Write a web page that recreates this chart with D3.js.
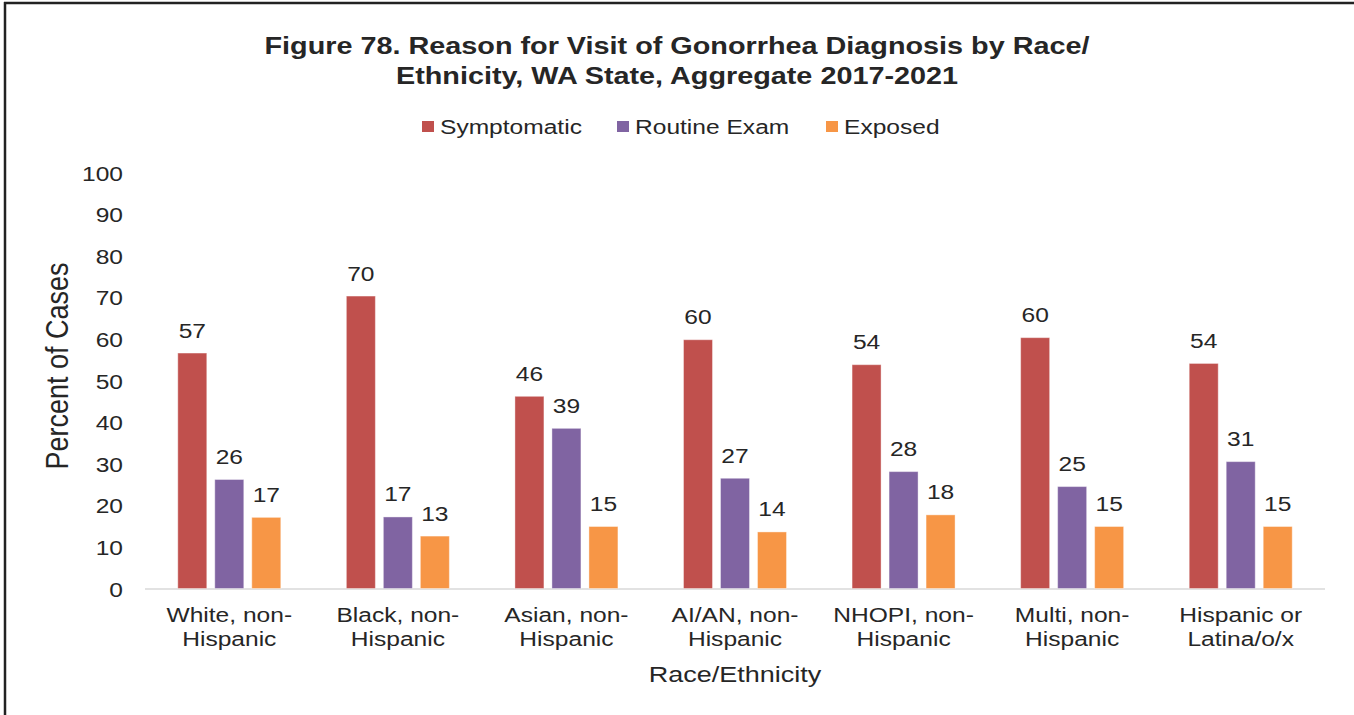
<!DOCTYPE html>
<html><head><meta charset="utf-8">
<script src="https://cdn.jsdelivr.net/npm/d3@7"></script>
<style>body{margin:0;background:#fff;} text{font-family:"Liberation Sans",Arial,sans-serif;}</style>
</head><body>
<svg id="c" width="1354" height="715"></svg>
<script>
const categories = [["White, non-","Hispanic"],["Black, non-","Hispanic"],["Asian, non-","Hispanic"],["AI/AN, non-","Hispanic"],["NHOPI, non-","Hispanic"],["Multi, non-","Hispanic"],["Hispanic or","Latina/o/x"]];
const seriesNames = ["Symptomatic","Routine Exam","Exposed"];
const symptomatic = [56.6, 70.3, 46.2, 59.8, 53.8, 60.3, 54.1];
const routineExam = [26.2, 17.2, 38.5, 26.5, 28.1, 24.5, 30.5];
const exposed = [17.1, 12.6, 14.9, 13.6, 17.7, 14.9, 14.9];
const yTicks = [0,10,20,30,40,50,60,70,80,90,100];
const colors = ["#C0504D","#8064A2","#F79646"];
const series = [symptomatic, routineExam, exposed];

const svg = d3.select("#c");
const txt = "#262626";
const SX = 1.17; // horizontal stretch of the reference text

function stext(x, y, str, size, anchor, sx){
  return svg.append("text").attr("transform",`translate(${x},${y}) scale(${sx||SX},1)`)
    .attr("text-anchor",anchor||"middle").attr("font-size",size).attr("fill",txt).text(str);
}

// border
svg.append("line").attr("x1",5).attr("x2",5).attr("y1",2).attr("y2",715).attr("stroke","#222").attr("stroke-width",2.5);
svg.append("line").attr("x1",4).attr("x2",1354).attr("y1",3).attr("y2",3).attr("stroke","#222").attr("stroke-width",2.5);

const x0 = d3.scaleBand().domain(d3.range(categories.length)).range([145,1325]);
const barW = 29, step = 37;
const y = d3.scaleLinear().domain([0,100]).range([588.5,172.5]);

// title
stext(677,54,"Figure 78. Reason for Visit of Gonorrhea Diagnosis by Race/",24,"middle",1.2).attr("font-weight","bold");
stext(677,84,"Ethnicity, WA State, Aggregate 2017-2021",24,"middle",1.2).attr("font-weight","bold");

// legend
const legSq = [422, 617, 826];
seriesNames.forEach((n,i)=>{
  svg.append("rect").attr("x",legSq[i]).attr("y",121).attr("width",12).attr("height",11).attr("fill",colors[i]);
  stext(legSq[i]+18,134,n,21,"start");
});

// y axis tick labels via d3 axis
const yAxis = d3.axisLeft(y).tickValues(yTicks).tickSize(0).tickPadding(0);
const ga = svg.append("g").attr("transform","translate(123,0)").call(yAxis);
ga.select(".domain").remove();
ga.selectAll(".tick text").attr("font-size",21).attr("fill",txt)
  .attr("font-family","Liberation Sans, Arial, sans-serif").attr("x",0).attr("dy","0.36em")
  .attr("transform",`scale(${SX},1)`);

// baseline
svg.append("line").attr("x1",145).attr("x2",1325).attr("y1",y(0)+0.5).attr("y2",y(0)+0.5).attr("stroke","#d9d9d9").attr("stroke-width",1.5);

// bars
categories.forEach((c,ci)=>{
  const cx = x0(ci) + x0.bandwidth()/2;
  series.forEach((s,si)=>{
    const bx = cx + (si-1)*step - barW/2;
    svg.append("rect").attr("x",bx).attr("y",y(s[ci])).attr("width",barW).attr("height",y(0)-y(s[ci]))
      .attr("fill",colors[si]).attr("stroke","rgba(255,255,255,0.4)").attr("stroke-width",1);
    stext(bx+barW/2, y(s[ci])-15.5, d3.format(".0f")(s[ci]), 21);
  });
  stext(cx,622,c[0],21);
  stext(cx,646,c[1],21);
});

// axis titles
svg.append("text").attr("transform","translate(68,366) scale(1.15,1) rotate(-90)").attr("text-anchor","middle")
  .attr("font-size",27).attr("fill",txt).text("Percent of Cases");
stext(735,682,"Race/Ethnicity",22.5,"middle",1.2);
</script>
</body></html>
